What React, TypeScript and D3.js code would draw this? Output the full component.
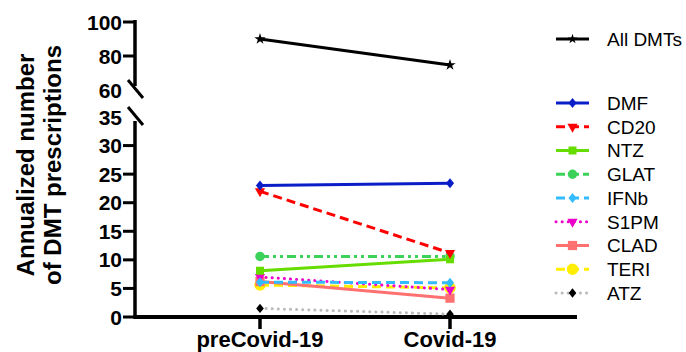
import React from 'react';
import * as d3 from 'd3';

const categories = ['preCovid-19', 'Covid-19'];

const allDMTs = [90, 74.7];

const seriesNames = ['DMF', 'CD20', 'NTZ', 'GLAT', 'IFNb', 'S1PM', 'CLAD', 'TERI', 'ATZ'];
const dmf = [23.0, 23.4];
const cd20 = [22.0, 11.2];
const ntz = [8.1, 10.1];
const glat = [10.6, 10.6];
const ifnb = [6.1, 6.0];
const s1pm = [7.0, 4.8];
const clad = [6.2, 3.3];
const teri = [5.6, 5.1];
const atz = [1.5, 0.5];

const topTicks = [100, 80, 60];
const bottomTicks = [0, 5, 10, 15, 20, 25, 30, 35];

const styles = {
	DMF: { values: dmf, color: '#0a1ec8', dash: null, marker: 'diamond', markerColor: '#0a1ec8', size: 40 },
	CD20: { values: cd20, color: '#ff0000', dash: '9,5', marker: 'triDown', markerColor: '#ff0000', size: 45 },
	NTZ: { values: ntz, color: '#66dd00', dash: null, marker: 'square', markerColor: '#66dd00', size: 64 },
	GLAT: { values: glat, color: '#3cd25a', dash: '9,4,3,4,3,4', marker: 'circle', markerColor: '#3cd25a', size: 70 },
	IFNb: { values: ifnb, color: '#33bbff', dash: '9,5', marker: 'diamond', markerColor: '#33bbff', size: 40 },
	S1PM: { values: s1pm, color: '#ee00cc', dash: '0.1,6', marker: 'triDown', markerColor: '#ee00cc', size: 45, round: true },
	CLAD: { values: clad, color: '#ff7070', dash: null, marker: 'square', markerColor: '#ff7070', size: 85 },
	TERI: { values: teri, color: '#ffee00', dash: '9,5', marker: 'circle', markerColor: '#ffee00', size: 105 },
	ATZ: { values: atz, color: '#bbbbbb', dash: '0.1,6', marker: 'diamond', markerColor: '#000000', size: 35, round: true }
};

function symbolPath (marker, size) {
	let type = d3.symbolCircle;
	if (marker === 'diamond') type = d3.symbolDiamond;
	if (marker === 'square') type = d3.symbolSquare;
	if (marker === 'triDown') type = d3.symbolTriangle;
	if (marker === 'star') type = d3.symbolStar;
	return d3.symbol().type(type).size(size)();
}

const App = () => {
	const x = d3.scalePoint().domain(categories).range([260, 450]);
	const yTop = d3.scaleLinear().domain([60, 100]).range([90, 22]);
	const yBot = d3.scaleLinear().domain([0, 35]).range([317, 117]);

	const lineBot = d3.line().x((d, i) => x(categories[i])).y(d => yBot(d));
	const lineTop = d3.line().x((d, i) => x(categories[i])).y(d => yTop(d));

	const axisX = 135;
	const font = '"Liberation Sans", Arial, sans-serif';
	const tickFont = 21;

	const legendX1 = 556;
	const legendX2 = 589;
	const legendTextX = 607;

	// diamonds in the original are squat, not tall
	const marker = (s, cx, cy, key) => (
		<path key={key} d={symbolPath(s.marker, s.size)} fill={s.markerColor}
			transform={`translate(${cx},${cy})${s.marker === 'triDown' ? ' rotate(180)' : ''}${s.marker === 'diamond' ? ' scale(1.2,0.85)' : ''}`} />
	);

	return (
		<svg width={686} height={352} style={{ position: 'absolute', left: 0, top: 0, background: '#fff' }} fontFamily={font}>
			{/* y title */}
			<g fontWeight="bold" fontSize={24} textAnchor="middle">
				<text transform="translate(34,165) rotate(-90)">Annualized number</text>
				<text transform="translate(61,165) rotate(-90)">of DMT prescriptions</text>
			</g>

			{/* top y axis */}
			<line x1={axisX} x2={axisX} y1={20} y2={86} stroke="#000" strokeWidth={3.5} />
			{topTicks.map(t => (
				<g key={'tt' + t}>
					{t !== 60 && <line x1={axisX - 12} x2={axisX} y1={yTop(t)} y2={yTop(t)} stroke="#000" strokeWidth={3} />}
					<text x={axisX - 13} y={yTop(t)} dy="0.36em" textAnchor="end" fontWeight="bold" fontSize={tickFont}>{t}</text>
				</g>
			))}
			<line x1={128} x2={143} y1={80} y2={98} stroke="#000" strokeWidth={3} />

			{/* bottom y axis */}
			<line x1={axisX} x2={axisX} y1={121} y2={318.5} stroke="#000" strokeWidth={3.5} />
			{bottomTicks.map(t => (
				<g key={'bt' + t}>
					{t !== 35 && <line x1={axisX - 12} x2={axisX} y1={yBot(t)} y2={yBot(t)} stroke="#000" strokeWidth={3} />}
					<text x={axisX - 13} y={yBot(t)} dy="0.36em" textAnchor="end" fontWeight="bold" fontSize={tickFont}>{t}</text>
				</g>
			))}
			<line x1={128} x2={143} y1={107} y2={125} stroke="#000" strokeWidth={3} />

			{/* x axis */}
			<line x1={axisX - 1.5} x2={577} y1={317} y2={317} stroke="#000" strokeWidth={4} />
			{categories.map(c => (
				<g key={c}>
					<line x1={x(c)} x2={x(c)} y1={317} y2={329} stroke="#000" strokeWidth={3.5} />
					<text x={x(c)} y={347} textAnchor="middle" fontWeight="bold" fontSize={22}>{c}</text>
				</g>
			))}

			{/* all DMTs */}
			<path d={lineTop(allDMTs)} fill="none" stroke="#000" strokeWidth={3} />
			{allDMTs.map((v, i) => (
				<path key={'ad' + i} d={symbolPath('star', 40)} fill="#000" transform={`translate(${x(categories[i])},${yTop(v)})`} />
			))}

			{/* series */}
			{seriesNames.slice().reverse().map(name => {
				const s = styles[name];
				return (
					<g key={name}>
						<path d={lineBot(s.values)} fill="none" stroke={s.color} strokeWidth={3}
							strokeDasharray={s.dash || undefined} strokeLinecap={s.round ? 'round' : 'butt'} />
						{s.values.map((v, i) => marker(s, x(categories[i]), yBot(v), name + i))}
					</g>
				);
			})}

			{/* legend */}
			<g fontSize={19}>
				<line x1={legendX1} x2={legendX2} y1={39} y2={39} stroke="#000" strokeWidth={3} />
				<path d={symbolPath('star', 30)} fill="#000" transform={`translate(${(legendX1 + legendX2) / 2},39)`} />
				<text x={legendTextX} y={39} dy="0.36em">All DMTs</text>
				{seriesNames.map((name, i) => {
					const s = styles[name];
					const ly = 103 + i * 23.75;
					return (
						<g key={'lg' + name}>
							<line x1={legendX1} x2={legendX2} y1={ly} y2={ly} stroke={s.color} strokeWidth={3}
								strokeDasharray={s.dash || undefined} strokeLinecap={s.round ? 'round' : 'butt'} />
							{marker(s, (legendX1 + legendX2) / 2, ly, 'lm' + name)}
							<text x={legendTextX} y={ly} dy="0.36em">{name}</text>
						</g>
					);
				})}
			</g>
		</svg>
	);
};

export default App;
